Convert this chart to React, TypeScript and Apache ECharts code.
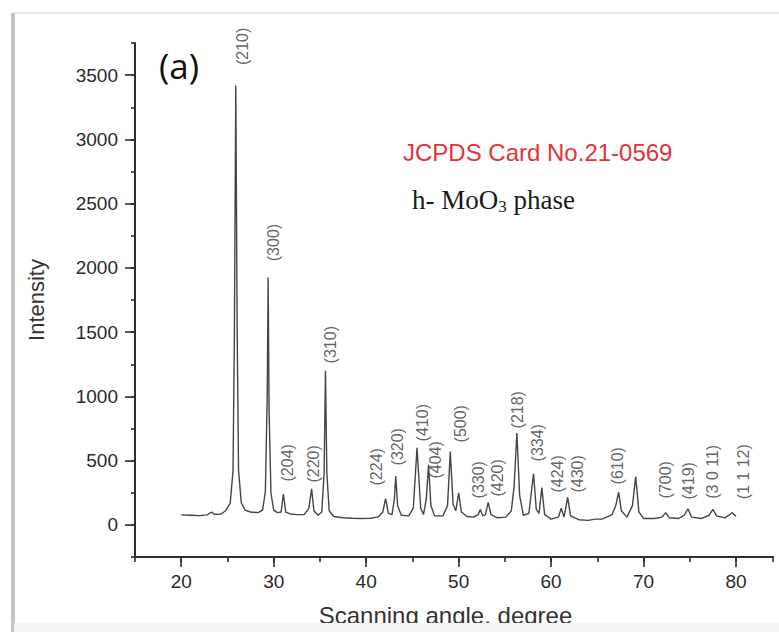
import { useEffect, useRef } from "react";
import * as echarts from "echarts";

// XRD pattern (2θ in degrees, intensity in counts)
const scanAngle = [
  20.0, 21.0, 22.0, 22.8, 23.3, 23.6, 24.3, 24.8, 25.3, 25.6, 25.75, 25.9, 26.05, 26.2, 26.5, 26.9,
  27.5, 28.3, 28.8, 29.1, 29.3, 29.4, 29.5, 29.7, 30.0, 30.4, 30.8, 31.05, 31.3, 31.8,
  32.5, 33.3, 33.8, 34.1, 34.35, 34.8, 35.2, 35.45, 35.6, 35.75, 36.0, 36.5,
  37.5, 38.5, 39.5, 40.5, 41.3, 41.8, 42.1, 42.4, 42.8, 43.05, 43.2, 43.4, 43.8,
  44.6, 45.1, 45.5, 45.9, 46.2, 46.5, 46.75, 47.0, 47.4, 48.3, 48.8, 49.1, 49.4,
  49.7, 50.0, 50.3, 50.9, 51.6, 52.1, 52.35, 52.6, 52.9, 53.2, 53.5, 54.2,
  55.1, 55.7, 56.0, 56.3, 56.6, 57.0, 57.6, 58.1, 58.4, 58.7, 59.0, 59.3,
  60.0, 60.8, 61.1, 61.4, 61.8, 62.1, 63.0, 64.0, 64.8, 65.5, 66.6, 67.0,
  67.3, 67.6, 68.2, 68.8, 69.15, 69.5, 70.0, 71.2, 72.0, 72.4, 72.8, 73.8,
  74.4, 74.8, 75.2, 76.3, 77.1, 77.5, 77.9, 78.8, 79.4, 79.6, 80.0,
];
const intensity = [
  78, 75, 72, 78, 100, 82, 85, 110, 170, 420, 1500, 3420, 1500, 420, 170, 115,
  100, 95, 115, 260, 1000, 1925, 900, 250, 115, 95, 100, 240, 100, 85,
  80, 80, 130, 280, 110, 75, 100, 400, 1200, 400, 110, 65,
  55, 52, 50, 52, 62, 100, 205, 90, 80, 200, 380, 150, 75,
  70, 130, 600, 130, 80, 200, 467, 150, 70, 70, 150, 570, 160,
  110, 250, 100, 65, 60, 80, 120, 70, 80, 175, 80, 55,
  60, 110, 300, 715, 230, 75, 90, 400, 120, 90, 290, 80,
  45, 60, 130, 60, 215, 70, 40, 35, 45, 45, 80, 150,
  255, 110, 60, 150, 375, 100, 50, 50, 60, 95, 55, 50,
  75, 125, 60, 50, 75, 120, 70, 55, 85, 95, 65,
];

// Miller-index annotations and where their centres sit (data coordinates)
const peakHkl = [
  "(210)", "(300)", "(204)", "(220)", "(310)", "(224)", "(320)", "(410)", "(404)", "(500)",
  "(330)", "(420)", "(218)", "(334)", "(424)", "(430)", "(610)", "(700)", "(419)", "(3 0 11)", "(1 1 12)",
];
const peakLabelAngle = [
  26.6, 30.0, 31.5, 34.3, 36.1, 41.1, 43.4, 46.1, 47.5, 50.2,
  52.1, 54.2, 56.4, 58.5, 60.7, 62.9, 67.2, 72.4, 74.9, 77.5, 80.8,
];
const peakLabelIntensity = [
  3724, 2197, 483, 475, 1402, 452, 608, 795, 506, 787,
  351, 366, 896, 639, 397, 397, 460, 351, 343, 413, 413,
];

const xTickLabels = [20, 30, 40, 50, 60, 70, 80];
const yTickLabels = [0, 500, 1000, 1500, 2000, 2500, 3000, 3500];

export default function App() {
  const ref = useRef<HTMLDivElement>(null);

  useEffect(() => {
    const chart = echarts.init(ref.current!, null, { renderer: "svg" });
    const W = 779, H = 632;
    const L = 135, R = 6, T = 43, B = 75;
    const xMin = 15, xMax = 84, yMin = -250, yMax = 3750;
    const plotW = W - L - R, plotH = H - T - B;
    const px = (v: number) => L + ((v - xMin) / (xMax - xMin)) * plotW;
    const py = (v: number) => T + ((yMax - v) / (yMax - yMin)) * plotH;

    const yLo = yTickLabels[0], yHi = yTickLabels[yTickLabels.length - 1];
    const xLo = xTickLabels[0], xHi = xTickLabels[xTickLabels.length - 1];

    const axisColor = "#2e2e2e";
    const font = "'Liberation Sans', Arial, sans-serif";
    const plain = (v: number) => String(v);

    chart.setOption({
      animation: false,
      backgroundColor: "#ffffff",
      grid: [
        { left: L, top: T, width: plotW, height: plotH },
        { left: L, top: py(yHi), width: plotW, height: py(yLo) - py(yHi) },
        { left: px(xLo), top: T, width: px(xHi) - px(xLo), height: plotH },
      ],
      xAxis: [
        {
          gridIndex: 0, type: "value", min: xMin, max: xMax, interval: 5,
          axisLine: { show: true, onZero: false, lineStyle: { color: axisColor, width: 2 } },
          axisTick: { show: true, length: 5, lineStyle: { color: axisColor, width: 1.6 } },
          axisLabel: { show: false }, splitLine: { show: false },
          name: "Scanning angle, degree", nameLocation: "middle", nameGap: 46,
          nameTextStyle: { fontSize: 24, color: "#333", fontFamily: font, padding: [0, 17, 0, 0] },
        },
        { gridIndex: 1, type: "value", min: 0, max: 1, show: false },
        {
          gridIndex: 2, type: "value", min: xLo, max: xHi, interval: 10,
          axisLine: { show: false },
          axisTick: { show: true, length: 10, lineStyle: { color: axisColor, width: 1.6 } },
          axisLabel: { show: true, fontSize: 19, margin: 15, color: "#2a2a2a", fontFamily: font, formatter: plain },
          splitLine: { show: false },
        },
      ],
      yAxis: [
        {
          gridIndex: 0, type: "value", min: yMin, max: yMax, interval: 250,
          axisLine: { show: true, onZero: false, lineStyle: { color: axisColor, width: 2 } },
          axisTick: { show: true, length: 4, lineStyle: { color: axisColor, width: 1.6 } },
          axisLabel: { show: false }, splitLine: { show: false },
          name: "Intensity", nameLocation: "middle", nameGap: 88,
          nameTextStyle: { fontSize: 22, color: "#333", fontFamily: font },
        },
        {
          gridIndex: 1, type: "value", min: yLo, max: yHi, interval: 500,
          axisLine: { show: false },
          axisTick: { show: true, length: 10, lineStyle: { color: axisColor, width: 1.6 } },
          axisLabel: { show: true, fontSize: 19, margin: 17, color: "#2a2a2a", fontFamily: font, formatter: plain },
          splitLine: { show: false },
        },
        { gridIndex: 2, type: "value", min: 0, max: 1, show: false },
      ],
      series: [
        {
          type: "line", xAxisIndex: 0, yAxisIndex: 0,
          data: scanAngle.map((a, i) => [a, intensity[i]]),
          showSymbol: false, symbol: "none",
          lineStyle: { color: "#454545", width: 1.4 },
          silent: true,
        },
        {
          type: "scatter", xAxisIndex: 0, yAxisIndex: 0,
          data: peakHkl.map((h, i) => [peakLabelAngle[i], peakLabelIntensity[i], h]),
          symbolSize: 0,
          label: {
            show: true, position: "inside", rotate: 90,
            formatter: (p: any) => p.value[2],
            fontSize: 16, color: "#3a3a3a", fontFamily: font,
          },
          silent: true,
        },
      ],
      graphic: [
        { type: "line", shape: { x1: 13, y1: 13, x2: 779, y2: 13 }, style: { stroke: "#e2e2e2", lineWidth: 1.5 }, z: 10 },
        { type: "line", shape: { x1: 13, y1: 13, x2: 13, y2: 632 }, style: { stroke: "#c4c4c4", lineWidth: 4 }, z: 10 },
        {
          type: "text", x: 179, y: 65,
          style: { text: "(a)", font: "35px 'Open Sans', sans-serif", fill: "#111", align: "center", verticalAlign: "middle" },
          z: 10,
        },
        {
          type: "text", x: 403, y: 152,
          style: { text: "JCPDS Card No.21-0569", font: `24px ${font}`, fill: "#e0343c", align: "left", verticalAlign: "middle" },
          z: 10,
        },
        {
          type: "text", x: 412, y: 200,
          style: {
            text: "{a|h- MoO}{s|3}{a| phase}",
            align: "left", verticalAlign: "middle",
            rich: {
              a: { fontSize: 27, fontFamily: "'Liberation Serif', 'Times New Roman', serif", fill: "#1a1a1a", lineHeight: 30, verticalAlign: "middle" },
              s: { fontSize: 17, fontFamily: "'Liberation Serif', 'Times New Roman', serif", fill: "#1a1a1a", lineHeight: 17, verticalAlign: "bottom" },
            },
          },
          z: 10,
        },
        { type: "rect", shape: { x: 14, y: 623, width: 765, height: 9 }, style: { fill: "#f5f5f5" }, z: 20 },
      ],
    });

    return () => chart.dispose();
  }, []);

  return <div ref={ref} style={{ position: "absolute", left: 0, top: 0, width: 779, height: 632 }} />;
}
